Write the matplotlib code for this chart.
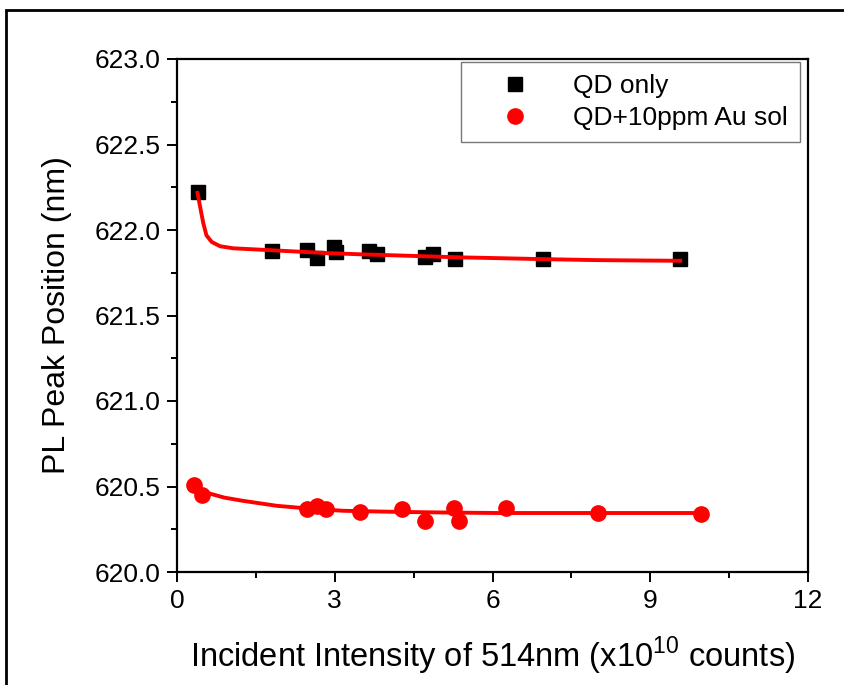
import matplotlib
matplotlib.use("Agg")
import matplotlib.pyplot as plt
from matplotlib.patches import Rectangle
from matplotlib.ticker import MultipleLocator, FormatStrFormatter

plt.rcParams['font.family'] = ['Liberation Sans', 'DejaVu Sans']
plt.rcParams['mathtext.fontset'] = 'custom'
plt.rcParams['mathtext.rm'] = 'Liberation Sans'

# QD only data
qd_x = [0.39, 1.81, 2.47, 2.66, 2.99, 3.02, 3.65, 3.80, 4.72, 4.87, 5.29, 6.96, 9.57]
qd_y = [622.22, 621.875, 621.885, 621.838, 621.90, 621.87, 621.875, 621.858,
        621.84, 621.858, 621.83, 621.83, 621.83]

# QD + 10ppm Au sol data
au_x = [0.33, 0.47, 2.47, 2.66, 2.83, 3.48, 4.27, 4.72, 5.26, 5.36, 6.26, 8.00, 9.96]
au_y = [620.51, 620.45, 620.368, 620.387, 620.368, 620.348, 620.368, 620.30,
        620.374, 620.30, 620.374, 620.345, 620.34]

# fit curves
fit1_x = [0.39, 0.44, 0.50, 0.56, 0.66, 0.82, 1.07, 1.58, 2.21, 2.85, 3.48, 4.11,
          4.75, 5.38, 6.01, 6.90, 7.95, 8.67, 9.57]
fit1_y = [622.217, 622.135, 622.04, 621.969, 621.93, 621.905, 621.893, 621.885,
          621.875, 621.865, 621.858, 621.852, 621.846, 621.840, 621.836, 621.830,
          621.824, 621.822, 621.820]
fit2_x = [0.33, 0.47, 0.63, 0.90, 1.26, 1.90, 2.47, 3.16, 4.11, 5.06, 6.08, 8.00, 9.96]
fit2_y = [620.50, 620.475, 620.458, 620.435, 620.416, 620.387, 620.372, 620.358,
          620.352, 620.348, 620.345, 620.345, 620.345]

xticks = [0, 3, 6, 9, 12]
yticks = [620.0, 620.5, 621.0, 621.5, 622.0, 622.5, 623.0]

fig = plt.figure(figsize=(8.44, 6.85), dpi=100)
ax = fig.add_axes([177/844, 1-572/685, (808-177)/844, (572-59)/685])

ax.plot(fit1_x, fit1_y, color='red', lw=2.8, zorder=3)
ax.plot(fit2_x, fit2_y, color='red', lw=2.8, zorder=3)
ax.plot(qd_x, qd_y, 's', color='black', ms=9.5, label='QD only', zorder=2)
ax.plot(au_x, au_y, 'o', color='red', ms=11, label='QD+10ppm Au sol', zorder=2)

ax.set_xlim(0, 12)
ax.set_ylim(620.0, 623.0)
ax.set_xticks(xticks)
ax.set_yticks(yticks)
ax.xaxis.set_minor_locator(MultipleLocator(1.5))
ax.yaxis.set_minor_locator(MultipleLocator(0.25))
ax.yaxis.set_major_formatter(FormatStrFormatter('%.1f'))
ax.tick_params(which='major', direction='out', length=7, width=1.4, labelsize=19, pad=5)
ax.tick_params(which='minor', direction='out', length=4, width=1.4)
for s in ax.spines.values():
    s.set_linewidth(1.6)

ax.set_xlabel(r'Incident Intensity of 514nm (x10$^{10}$ counts)', fontsize=23.5, labelpad=16)
ax.set_ylabel('PL Peak Position (nm)', fontsize=23, labelpad=16)

leg = ax.legend(loc='upper right', bbox_to_anchor=(0.987, 0.994), borderaxespad=0,
                fontsize=19, frameon=True, fancybox=False, edgecolor='#555555',
                handletextpad=0.6, borderpad=0.45, labelspacing=0.32, handlelength=3.2)
leg.get_frame().set_linewidth(1.0)

fig.patches.append(Rectangle((6/844, -0.05), 1.2, 1-10/685+0.05, transform=fig.transFigure,
                             fill=False, edgecolor='black', lw=2, clip_on=False))

fig.savefig('out.png', dpi=100)
